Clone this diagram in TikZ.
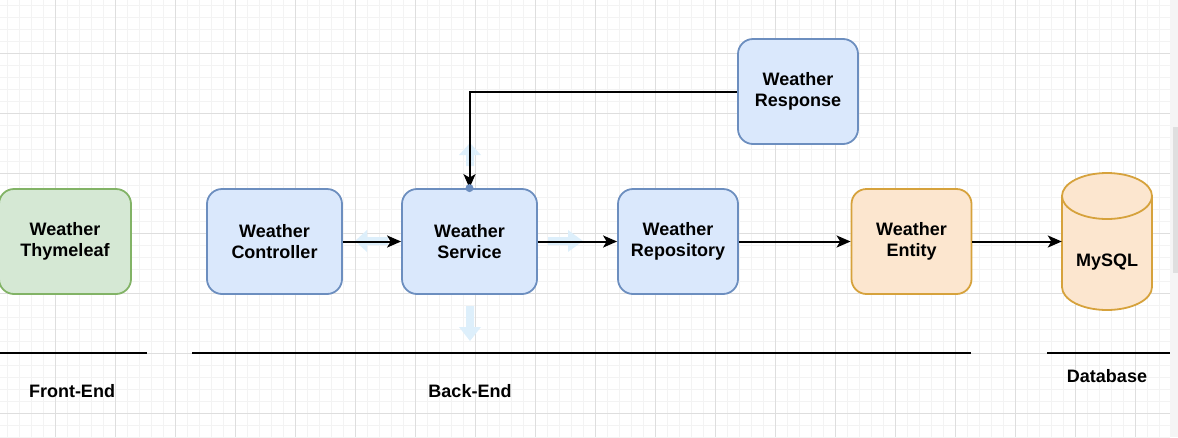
\documentclass[tikz,border=0pt]{standalone}
\usepackage{fontspec}
\setmainfont{Liberation Sans}
\usetikzlibrary{arrows.meta}
\definecolor{bluefill}{HTML}{DAE8FC}
\definecolor{bluedraw}{HTML}{6C8EBF}
\definecolor{greenfill}{HTML}{D5E8D4}
\definecolor{greendraw}{HTML}{82B366}
\definecolor{orangefill}{HTML}{FCE6CF}
\definecolor{orangedraw}{HTML}{D6A23C}
\definecolor{gridminor}{HTML}{F3F3F3}
\definecolor{gridmajor}{HTML}{DEDEDE}
\definecolor{hintblue}{HTML}{DDEFFB}
\newcommand{\labelfont}{\bfseries\fontsize{18}{21.5}\selectfont}
\tikzset{
  box/.style={draw, rounded corners=15, line width=1.8, minimum height=105,
              minimum width=135, align=center, font=\labelfont},
  bluebox/.style={box, fill=bluefill, draw=bluedraw},
  greenbox/.style={box, fill=greenfill, draw=greendraw},
  orangebox/.style={box, fill=orangefill, draw=orangedraw},
  arr/.style={line width=2, -{Stealth[length=14, width=12, inset=3.5]}},
  sep/.style={line width=2},
  caption/.style={font=\labelfont},
  hint/.style={fill=hintblue}
}
\begin{document}
\begin{tikzpicture}[x=1pt, y=-1pt]
  \useasboundingbox (0,0) rectangle (1178,437);
  \clip (0,0) rectangle (1178,437);
  % grid
  \foreach \x in {7,19,...,1170}{
    \draw[gridminor] (\x,0) -- (\x,437);
  }
  \foreach \y in {5,17,...,437}{
    \draw[gridminor] (0,\y) -- (1170,\y);
  }
  \foreach \x in {55,115,...,1170}{
    \draw[gridmajor] (\x,0) -- (\x,437);
  }
  \foreach \y in {53,113,...,437}{
    \draw[gridmajor] (0,\y) -- (1170,\y);
  }
  \fill[gray!8] (1170,0) rectangle (1178,437);
  \fill[gray!25] (1173,127) rectangle (1178,273);

  % hover hints round the service
  \fill[hint] (466,166) --++ (0,-11) --++ (-7,0) --++ (11,-12) --++ (11,12)
              --++ (-7,0) --++ (0,11) -- cycle;
  \fill[hint] (466,306) --++ (0,21) --++ (-7,0) --++ (11,14) --++ (11,-14)
              --++ (-7,0) --++ (0,-21) -- cycle;
  \fill[hint] (388,237) --++ (-21,0) --++ (0,-7) --++ (-12,11) --++ (12,11)
              --++ (0,-7) --++ (21,0) -- cycle;
  \fill[hint] (548,237) --++ (20,0) --++ (0,-7) --++ (15,11) --++ (-15,11)
              --++ (0,-7) --++ (-20,0) -- cycle;

  % boxes
  \node[greenbox, minimum width=132] (thyme) at (65,241.5) {Weather\\Thymeleaf};
  \node[bluebox] (ctrl) at (274.5,241.5) {Weather\\Controller};
  \node[bluebox] (svc) at (469.5,241.5) {Weather\\Service};
  \node[bluebox, minimum width=120] (repo) at (678,241.5) {Weather\\Repository};
  \node[bluebox, minimum width=120] (resp) at (798,91.5) {Weather\\Response};
  \node[orangebox, minimum width=120] (ent) at (911.5,241.5) {Weather\\Entity};

  % database
  \filldraw[fill=orangefill, draw=orangedraw, line width=1.8]
    (1062,196) -- (1062,287) arc[start angle=180, end angle=0, x radius=45, y radius=23]
    -- (1152,196) arc[start angle=0, end angle=-180, x radius=45, y radius=23] -- cycle;
  \draw[orangedraw, line width=1.8]
    (1062,196) arc[start angle=180, end angle=0, x radius=45, y radius=23];
  \node[minimum width=90, minimum height=137, inner sep=0] (db) at (1107,241.5) {};
  \node[font=\labelfont] (dbtext) at (1107,262) {MySQL};

  % connectors
  \draw[arr] (ctrl) -- (svc);
  \draw[arr] (svc) -- (repo);
  \draw[arr] (repo) -- (ent);
  \draw[arr] (ent) -- (db.west);
  \draw[arr] (resp.west) -| (svc.north);
  \fill[bluedraw] (svc.north) circle (4);

  % layers
  \draw[sep] (0,353) -- (147,353);
  \draw[sep] (192,353) -- (971,353);
  \draw[sep] (1047,353) -- (1170,353);
  \node[caption] (front) at (72,391) {Front-End};
  \node[caption] (back) at (470,391) {Back-End};
  \node[caption] (base) at (1107,376) {Database};
\end{tikzpicture}
\end{document}
